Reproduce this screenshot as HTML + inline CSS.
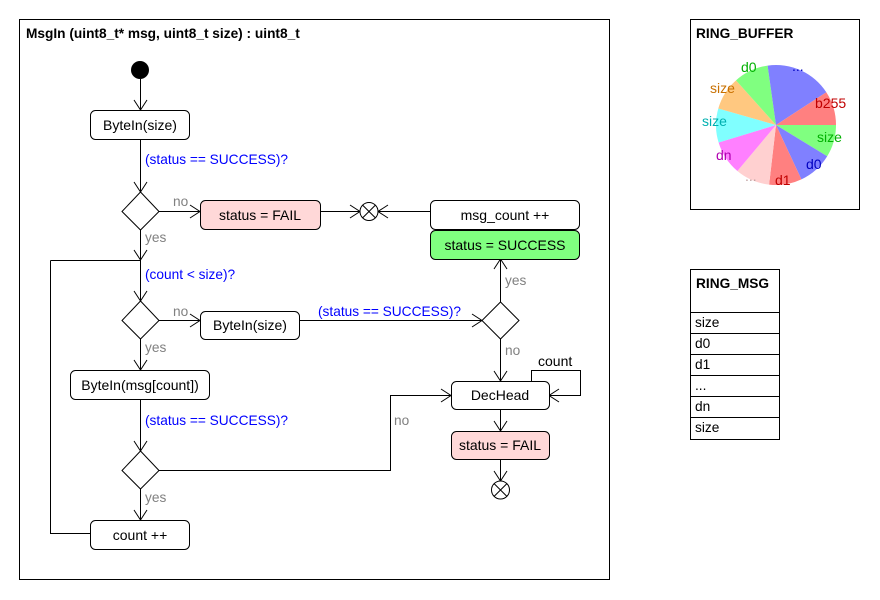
<!DOCTYPE html>
<html><head><meta charset="utf-8"><style>
html,body{margin:0;padding:0;background:#fff;}
svg{display:block;font-family:"Liberation Sans",Arial,sans-serif;}
.t{font-size:14px;fill:#000;}
.b{font-size:13.7px;fill:#0000ff;}
.g{font-size:13.7px;fill:#808080;}
</style></head><body>
<svg width="880" height="600" viewBox="0 0 880 600" xmlns="http://www.w3.org/2000/svg">
<g fill="none" stroke="#000" stroke-width="1">
<rect x="19.5" y="19.5" width="590" height="560"/>
</g>
<text x="26" y="38" font-size="13.7" font-weight="bold">MsgIn (uint8_t* msg, uint8_t size) : uint8_t</text>

<circle cx="140" cy="70" r="9" fill="#000"/>
<g fill="none" stroke="#000" stroke-width="1">
<path d="M140.5 79 V110"/>
<path d="M140.5 139 V192"/>
<path d="M159 211.5 H200"/>
<path d="M320 211.5 H360"/>
<path d="M430 211.5 H378"/>
<path d="M140.5 230 V301"/>
<path d="M50.5 260.5 H140"/>
<path d="M50.5 260.5 V533.5 H90"/>
<path d="M159 320.5 H200"/>
<path d="M300 320.5 H482"/>
<path d="M500.5 302 V259"/>
<path d="M500.5 339 V381"/>
<path d="M140.5 339 V370"/>
<path d="M140.5 399 V451"/>
<path d="M159 470.5 H390.5 V395.5 H451"/>
<path d="M140.5 489 V520"/>
<path d="M531.5 381 V370.5 H580.5 V395.5 H549"/>
<path d="M500.5 409 V431"/>
<path d="M500.5 459 V481"/>
<path d="M134 100 L140.5 110 L147 100"/>
<path d="M134 182 L140.5 192 L147 182"/>
<path d="M190 205 L200 211.5 L190 218"/>
<path d="M350 205 L360 211.5 L350 218"/>
<path d="M388 205 L378 211.5 L388 218"/>
<path d="M134 250 L140.5 260 L147 250"/>
<path d="M134 291 L140.5 301 L147 291"/>
<path d="M190 314 L200 320.5 L190 327"/>
<path d="M472 314 L482 320.5 L472 327"/>
<path d="M494 269 L500.5 259 L507 269"/>
<path d="M494 371 L500.5 381 L507 371"/>
<path d="M134 360 L140.5 370 L147 360"/>
<path d="M134 441 L140.5 451 L147 441"/>
<path d="M441 389 L451 395.5 L441 402"/>
<path d="M134 510 L140.5 520 L147 510"/>
<path d="M559 389 L549 395.5 L559 402"/>
<path d="M494 421 L500.5 431 L507 421"/>
<path d="M494 471 L500.5 481 L507 471"/>
<path d="M140.5 192 L159 211.5 L140.5 230 L122 211.5 Z" fill="#fff"/>
<path d="M140.5 301 L159 320.5 L140.5 339 L122 320.5 Z" fill="#fff"/>
<path d="M500.5 302 L519 320.5 L500.5 339 L482 320.5 Z" fill="#fff"/>
<path d="M140.5 451 L159 470.5 L140.5 489 L122 470.5 Z" fill="#fff"/>
<circle cx="369" cy="211.5" r="9" fill="#fff"/>
<path d="M362.6 205.1 L375.4 217.9 M375.4 205.1 L362.6 217.9"/>
<circle cx="500.5" cy="490" r="9" fill="#fff"/>
<path d="M494.1 483.6 L506.9 496.4 M506.9 483.6 L494.1 496.4"/>
<rect x="90.5" y="110.5" width="99" height="29" rx="5" fill="#fff"/>
<rect x="200.5" y="200.5" width="120" height="29" rx="5" fill="#ffd8d8"/>
<rect x="430.5" y="200.5" width="149" height="29" rx="5" fill="#fff"/>
<rect x="430.5" y="230.5" width="149" height="29" rx="5" fill="#80ff80"/>
<rect x="200.5" y="311.5" width="99" height="28" rx="5" fill="#fff"/>
<rect x="70.5" y="370.5" width="139" height="29" rx="5" fill="#fff"/>
<rect x="451.5" y="381.5" width="98" height="28" rx="5" fill="#fff"/>
<rect x="451.5" y="431.5" width="98" height="28" rx="5" fill="#ffd8d8"/>
<rect x="90.5" y="520.5" width="99" height="29" rx="5" fill="#fff"/>
</g>
<g class="t" text-anchor="middle">
<text x="140" y="130">ByteIn(size)</text>
<text x="260" y="220">status = FAIL</text>
<text x="505" y="220">msg_count ++</text>
<text x="505" y="250">status = SUCCESS</text>
<text x="250" y="330">ByteIn(size)</text>
<text x="140" y="390">ByteIn(msg[count])</text>
<text x="500" y="400">DecHead</text>
<text x="500" y="450">status = FAIL</text>
<text x="140" y="540">count ++</text>
</g>
<text class="b" x="145" y="164">(status == SUCCESS)?</text>
<text class="b" x="145" y="279">(count &lt; size)?</text>
<text class="b" x="318" y="316">(status == SUCCESS)?</text>
<text class="b" x="145" y="425">(status == SUCCESS)?</text>
<text class="g" x="173" y="206">no</text>
<text class="g" x="145" y="242">yes</text>
<text class="g" x="173" y="316">no</text>
<text class="g" x="145" y="352">yes</text>
<text class="g" x="505" y="285">yes</text>
<text class="g" x="505" y="355">no</text>
<text class="g" x="394" y="425">no</text>
<text class="g" x="145" y="502">yes</text>
<text class="t" x="538" y="366">count</text>

<rect x="690.5" y="19.5" width="169" height="190" fill="none" stroke="#000"/>
<text x="696" y="38" font-size="13.7" font-weight="bold">RING_BUFFER</text>
<g stroke="none">
<path d="M776 125 L836 125 A60 60 0 0 1 827.2 156.3 Z" fill="#80ff80"/>
<path d="M776 125 L827.2 156.3 A60 60 0 0 1 801.4 179.4 Z" fill="#8080ff"/>
<path d="M776 125 L801.4 179.4 A60 60 0 0 1 769.1 184.6 Z" fill="#ff8080"/>
<path d="M776 125 L769.1 184.6 A60 60 0 0 1 737.4 171 Z" fill="#ffd0d0"/>
<path d="M776 125 L737.4 171 A60 60 0 0 1 718.6 142.5 Z" fill="#ff80ff"/>
<path d="M776 125 L718.6 142.5 A60 60 0 0 1 718.3 108.5 Z" fill="#80ffff"/>
<path d="M776 125 L718.3 108.5 A60 60 0 0 1 736 80.4 Z" fill="#ffc880"/>
<path d="M776 125 L736 80.4 A60 60 0 0 1 767.6 65.6 Z" fill="#80ff80"/>
<path d="M776 125 L767.6 65.6 A60 60 0 0 1 826.3 92.3 Z" fill="#8080ff"/>
<path d="M776 125 L826.3 92.3 A60 60 0 0 1 836 125 Z" fill="#ff8080"/>
</g>
<g font-size="14">
<text x="741" y="72" fill="#00b000">d0</text>
<text x="792" y="71" fill="#0000c0">...</text>
<text x="710" y="93" fill="#c87000">size</text>
<text x="815" y="108" fill="#c00000">b255</text>
<text x="702" y="126" fill="#00b0b0">size</text>
<text x="817" y="142" fill="#00b000">size</text>
<text x="716" y="160" fill="#b000b0">dn</text>
<text x="806" y="169" fill="#0000c0">d0</text>
<text x="745" y="181" fill="#c0a0a0">...</text>
<text x="775" y="185" fill="#c00000">d1</text>
</g>

<g fill="none" stroke="#000">
<rect x="690.5" y="269.5" width="89" height="170"/>
<path d="M690.5 312.5 H779.5 M690.5 333.5 H779.5 M690.5 354.5 H779.5 M690.5 375.5 H779.5 M690.5 396.5 H779.5 M690.5 417.5 H779.5"/>
</g>
<text x="696" y="288" font-size="13.7" font-weight="bold">RING_MSG</text>
<g font-size="13.7">
<text x="695" y="327">size</text>
<text x="695" y="348">d0</text>
<text x="695" y="369">d1</text>
<text x="695" y="390">...</text>
<text x="695" y="411">dn</text>
<text x="695" y="432">size</text>
</g>
</svg>
</body></html>
